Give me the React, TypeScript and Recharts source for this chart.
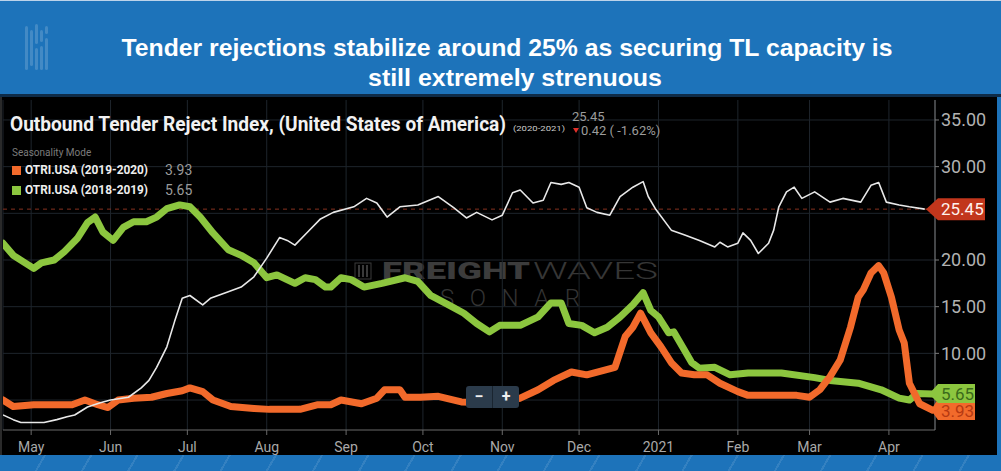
import React from 'react';
import { LineChart, Line, XAxis, YAxis, CartesianGrid, ReferenceLine, ReferenceDot } from 'recharts';

// x values are days since 2020-04-20
const monthTickDays = [11, 42, 72, 103, 134, 164, 195, 225, 256, 287, 315, 346];
const monthTickLabels = ['May', 'Jun', 'Jul', 'Aug', 'Sep', 'Oct', 'Nov', 'Dec', '2021', 'Feb', 'Mar', 'Apr'];
const gridValues = [5, 10, 15, 20, 25, 30, 35];
// 25.00 and 5.00 are covered by the value tags in the reference
const yTickLabels = [10, 15, 20, 30, 35];

// OTRI.USA (2020-2021) - white line
const days2021 = [0, 4, 7, 12, 16, 21, 25, 28, 33, 38, 42, 49, 54, 57, 60, 64, 67, 70, 73, 78, 81, 88, 93, 98, 103, 108, 111, 114, 119, 124, 129, 137, 142, 146, 150, 155, 162, 170, 176, 181, 185, 191, 195, 199, 202, 207, 211, 214, 218, 221, 225, 228, 232, 237, 241, 246, 250, 252, 255, 261, 266, 272, 278, 280, 283, 287, 289, 292, 295, 299, 301, 303, 306, 309, 312, 317, 323, 328, 335, 339, 342, 345, 350, 354, 360];
const otri2021 = [3.4, 2.9, 2.6, 2.6, 2.6, 2.9, 3.2, 3.4, 4.25, 4.7, 5.0, 5.3, 6.3, 7.1, 8.5, 10.7, 13.4, 15.9, 16.2, 15.2, 15.9, 16.6, 17.1, 18.2, 20.2, 22.4, 22.1, 21.6, 23.0, 24.4, 25.1, 25.7, 26.6, 26.1, 24.6, 25.7, 25.9, 26.8, 25.6, 24.5, 25.1, 24.3, 24.8, 27.2, 27.5, 26.1, 26.4, 28.3, 28.1, 28.3, 27.8, 25.6, 25.1, 24.8, 26.8, 27.8, 28.4, 26.8, 25.4, 23.2, 22.7, 22.1, 21.4, 21.9, 21.4, 21.8, 22.9, 22.1, 20.7, 21.8, 23.2, 25.7, 27.3, 27.8, 26.6, 27.3, 26.2, 26.6, 26.2, 28.0, 28.3, 26.2, 25.9, 25.7, 25.45];

// OTRI.USA (2019-2020) - orange line
const days1920 = [0, 4, 12, 20, 27, 32, 37, 41, 45, 51, 58, 64, 70, 73, 78, 82, 89, 98, 104, 111, 116, 123, 128, 132, 140, 146, 149, 155, 157, 163, 170, 179, 190, 202, 209, 215, 222, 228, 235, 239, 243, 246, 249, 253, 257, 261, 265, 270, 275, 280, 287, 291, 304, 310, 315, 319, 323, 327, 331, 334, 336, 339, 342, 344, 347, 350, 352, 354, 358, 363];
const otri1920 = [5.0, 4.3, 4.5, 4.5, 4.5, 5.0, 4.5, 4.2, 5.0, 5.2, 5.3, 5.7, 6.0, 6.3, 5.9, 5.0, 4.3, 4.1, 4.0, 4.0, 4.0, 4.5, 4.5, 5.0, 4.6, 5.2, 6.1, 6.1, 5.3, 5.3, 5.4, 4.8, 4.7, 5.2, 6.1, 7.1, 8.0, 7.7, 8.2, 8.5, 11.8, 12.8, 14.3, 12.2, 10.7, 9.0, 7.9, 7.7, 7.7, 6.8, 5.9, 5.5, 5.5, 5.5, 5.3, 6.1, 7.5, 9.3, 12.8, 16.0, 16.8, 18.6, 19.4, 18.6, 16.0, 12.5, 11.1, 6.8, 4.6, 3.93];

// OTRI.USA (2018-2019) - green line
const days1819 = [0, 4, 8, 12, 15, 20, 24, 29, 33, 36, 39, 43, 47, 51, 56, 60, 64, 69, 73, 77, 82, 88, 93, 98, 103, 107, 114, 118, 122, 126, 128, 132, 136, 141, 148, 157, 162, 167, 174, 180, 185, 190, 194, 202, 209, 214, 218, 221, 226, 231, 236, 241, 246, 250, 253, 256, 260, 262, 266, 269, 272, 278, 284, 291, 304, 317, 323, 334, 343, 350, 354, 357, 363];
const otri1819 = [21.8, 20.5, 19.8, 19.1, 19.7, 20.0, 20.9, 22.3, 24.0, 24.6, 23.0, 22.1, 23.5, 24.1, 24.1, 24.6, 25.5, 25.9, 25.7, 24.6, 22.9, 21.1, 20.5, 19.7, 18.1, 18.4, 17.5, 18.1, 17.9, 17.1, 17.1, 18.1, 17.9, 17.1, 17.5, 18.1, 17.7, 16.2, 15.2, 14.3, 13.2, 12.3, 13.0, 13.0, 13.9, 15.4, 15.4, 13.2, 13.0, 12.2, 12.8, 13.9, 15.2, 16.5, 14.6, 13.9, 12.2, 12.3, 10.4, 9.0, 8.4, 8.5, 7.7, 7.9, 7.9, 7.4, 7.1, 6.8, 6.1, 5.2, 5.0, 5.7, 5.65];

const lastValues = { current: 25.45, y1920: 3.93, y1819: 5.65 };

const toRows = (days: number[], vals: number[]) => days.map((day, i) => ({ day, value: vals[i] }));
const rows2021 = toRows(days2021, otri2021);
const rows1920 = toRows(days1920, otri1920);
const rows1819 = toRows(days1819, otri1819);

const BLUE = '#1d73ba';
const ORANGE = '#f26a2b';
const GREEN = '#8cc63f';
const RED_TAG = '#c2361c';

const makeTag = (text: string, bg: string, fg: string, tipDx: number, top: number, bottom: number, right: number, textDy: number) => (props: any) => {
  const { cx, cy } = props;
  if (cx == null || cy == null) return <g />;
  const pts = `${cx + tipDx},${cy} ${cx + 3},${cy + top} ${cx + right},${cy + top} ${cx + right},${cy + bottom} ${cx + 3},${cy + bottom}`;
  return (
    <g>
      <polygon points={pts} fill={bg} />
      <text x={cx + 6} y={cy + textDy} fill={fg} fontSize={17} fontFamily="Roboto, sans-serif">{text}</text>
    </g>
  );
};

const logoBars = [
  { x: 25, y: 26, h: 44 }, { x: 30, y: 30, h: 36 }, { x: 35, y: 24, h: 20 }, { x: 35, y: 48, h: 22 },
  { x: 40, y: 30, h: 12 }, { x: 40, y: 46, h: 24 }, { x: 45, y: 26, h: 8 }, { x: 45, y: 38, h: 32 },
];

export default function App() {
  return (
    <div style={{ position: 'fixed', left: 0, top: 0, width: 1001, height: 471, background: BLUE, overflow: 'hidden', fontFamily: 'Roboto, sans-serif' }}>
      <svg width={1001} height={97} style={{ position: 'absolute', left: 0, top: 0 }}>
        <rect x={0} y={0} width={1001} height={1} fill="#bcd3ea" />
        <rect x={0} y={94} width={1001} height={3} fill="#0e2b47" />
        {logoBars.map((b, i) => (
          <rect key={i} x={b.x} y={b.y} width={3} height={b.h} rx={1.5} fill="rgba(255,255,255,0.17)" />
        ))}
        <text x={507} y={56} textAnchor="middle" fill="#ffffff" fontSize={24} fontWeight="bold" fontFamily="'Liberation Sans', Arial, sans-serif" textLength={771} lengthAdjust="spacingAndGlyphs">
          Tender rejections stabilize around 25% as securing TL capacity is
        </text>
        <text x={515} y={86} textAnchor="middle" fill="#ffffff" fontSize={24} fontWeight="bold" fontFamily="'Liberation Sans', Arial, sans-serif" textLength={294} lengthAdjust="spacingAndGlyphs">
          still extremely strenuous
        </text>
      </svg>

      <div style={{ position: 'absolute', left: 0, top: 97, width: 997, height: 358, background: '#000', borderLeft: '2px solid #2a2a2a', boxSizing: 'border-box' }} />

      <div style={{ position: 'absolute', left: 2, top: 97, width: 995, height: 358 }}>
        <svg width={995} height={358} style={{ position: 'absolute', left: 0, top: 0 }}>
          <g fill="#3a3a3a">
            <rect x={353} y={166} width={16} height={16} fill="none" stroke="#3a3a3a" strokeWidth={1} />
            <rect x={356} y={168} width={2} height={12} />
            <rect x={360} y={168} width={2} height={12} />
            <rect x={364} y={168} width={2} height={12} />
          </g>
          <text x={380} y={182} fill="#3c3c3c" fontSize={23} fontWeight={900} textLength={148} lengthAdjust="spacingAndGlyphs">FREIGHT</text>
          <text x={531} y={182} fill="#363636" fontSize={23} fontWeight={300} textLength={125} lengthAdjust="spacingAndGlyphs">WAVES</text>
          <text x={438} y={209} fill="#333333" fontSize={24} fontWeight={300} textLength={140} lengthAdjust="spacing">SONAR</text>
        </svg>

        <div style={{ position: 'absolute', left: 0, top: 0 }}>
          <LineChart width={995} height={358} margin={{ top: 3, right: 0, bottom: 0, left: 1 }}>
            <CartesianGrid stroke="#1e252c" strokeWidth={1} horizontalValues={gridValues} />
            <XAxis
              dataKey="day"
              type="number"
              domain={[0, 364]}
              ticks={monthTickDays}
              tickFormatter={(d: number) => monthTickLabels[monthTickDays.indexOf(d)] ?? ''}
              allowDataOverflow
              height={25}
              stroke="#6a6a6a"
              tickSize={5}
              tickMargin={7}
              tick={{ fill: '#a9a9a9', fontSize: 14 }}
              interval={0}
            />
            <YAxis
              orientation="right"
              type="number"
              domain={[1.79, 37.14]}
              ticks={yTickLabels}
              tickFormatter={(v: number) => v.toFixed(2)}
              allowDataOverflow
              width={62}
              stroke="#7a7a7a"
              tickSize={4}
              tickMargin={2}
              tick={{ fill: '#b2b2b2', fontSize: 18 }}
              interval={0}
            />
            <ReferenceLine y={lastValues.current} stroke="#86301f" strokeDasharray="4 4" strokeWidth={1} />
            <Line data={rows1819} dataKey="value" type="linear" stroke={GREEN} strokeWidth={7} dot={false} strokeLinejoin="round" strokeLinecap="round" isAnimationActive={false} />
            <Line data={rows1920} dataKey="value" type="linear" stroke={ORANGE} strokeWidth={7} dot={false} strokeLinejoin="round" strokeLinecap="round" isAnimationActive={false} />
            <Line data={rows2021} dataKey="value" type="linear" stroke="#e8e8e8" strokeWidth={1.6} dot={false} strokeLinejoin="round" isAnimationActive={false} />
            <ReferenceDot x={364} y={lastValues.y1920} ifOverflow="visible" shape={makeTag(lastValues.y1920.toFixed(2), ORANGE, '#b63912', -4, -11, 10, 40, 7)} />
            <ReferenceDot x={364} y={lastValues.y1819} ifOverflow="visible" shape={makeTag(lastValues.y1819.toFixed(2), GREEN, '#3b6a1b', -6, -10, 9, 40, 6)} />
            <ReferenceDot x={364} y={lastValues.current} ifOverflow="visible" shape={makeTag(lastValues.current.toFixed(2), RED_TAG, '#fff2ee', -9, -11, 11, 50, 6)} />
          </LineChart>
        </div>

        <svg width={995} height={120} style={{ position: 'absolute', left: 0, top: 0 }}>
          <text x={8} y={34} fill="#f2f2f2" fontSize={21} fontWeight="bold" textLength={496} lengthAdjust="spacingAndGlyphs">Outbound Tender Reject Index, (United States of America)</text>
          <text x={511} y={34} fill="#cccccc" fontSize={7.5} textLength={52} lengthAdjust="spacingAndGlyphs">(2020-2021)</text>
          <text x={570} y={24} fill="#9c9c9c" fontSize={13}>25.45</text>
          <polygon points="571,31 577,31 574,36" fill="#e0302a" />
          <text x={579} y={38} fill="#9c9c9c" fontSize={13}>0.42 ( -1.62%)</text>
          <text x={10} y={59} fill="#7c7c7c" fontSize={10}>Seasonality Mode</text>
          <rect x={10} y={69} width={9} height={9} fill={ORANGE} />
          <text x={23} y={77} fill="#eeeeee" fontSize={12} fontWeight="bold" textLength={123} lengthAdjust="spacingAndGlyphs">OTRI.USA (2019-2020)</text>
          <text x={163} y={78} fill="#9a9a9a" fontSize={14}>3.93</text>
          <rect x={10} y={89} width={9} height={9} fill={GREEN} />
          <text x={23} y={97} fill="#eeeeee" fontSize={12} fontWeight="bold" textLength={123} lengthAdjust="spacingAndGlyphs">OTRI.USA (2018-2019)</text>
          <text x={163} y={98} fill="#9a9a9a" fontSize={14}>5.65</text>
        </svg>

        <div style={{ position: 'absolute', left: 464, top: 289, width: 53, height: 22, background: '#2b3b4b', borderRadius: 3, display: 'flex', alignItems: 'center', color: '#f0f0f0', fontSize: 16, fontWeight: 'bold', lineHeight: '22px' }}>
          <div style={{ width: 26, textAlign: 'center', borderRight: '1px solid #1a2530' }}>−</div>
          <div style={{ width: 26, textAlign: 'center' }}>+</div>
        </div>
      </div>

      <div style={{ position: 'absolute', left: 0, top: 455, width: 1001, height: 16, background: BLUE, backgroundImage: 'repeating-linear-gradient(120deg, rgba(255,255,255,0) 0px, rgba(255,255,255,0) 38px, rgba(255,255,255,0.10) 38px, rgba(255,255,255,0.10) 40px)' }} />
    </div>
  );
}
